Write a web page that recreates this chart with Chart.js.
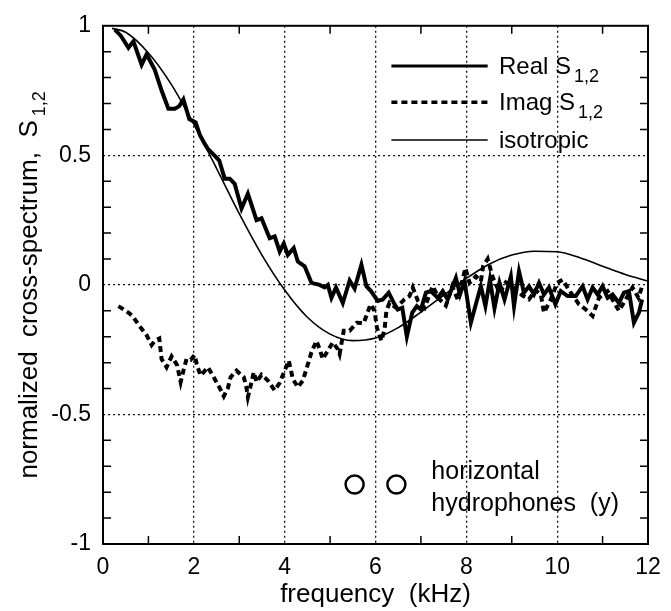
<!DOCTYPE html>
<html>
<head>
<meta charset="utf-8">
<script src="https://cdn.jsdelivr.net/npm/chart.js@4.4.1/dist/chart.umd.min.js"></script>
<style>
	html, body { margin: 0; padding: 0; background: #fff; }
	canvas { display: block; }
</style>
</head>
<body>
<canvas id="chart-cross-spectrum" width="671" height="611"></canvas>
<script>
const FONT = '"Liberation Sans", Arial, Helvetica, sans-serif';

// Real S1,2 (thick solid) - frequency in kHz
const realFreq = [0.26, 0.40, 0.56, 0.67, 0.85, 0.96, 1.14, 1.29, 1.44, 1.58, 1.68, 1.77, 1.90, 2.04, 2.13, 2.24, 2.31, 2.42, 2.56, 2.68, 2.79, 2.90, 3.05, 3.19, 3.38, 3.49, 3.67, 3.78, 3.89, 3.98, 4.07, 4.20, 4.29, 4.44, 4.59, 4.77, 4.88, 4.95, 5.03, 5.13, 5.28, 5.43, 5.54, 5.69, 5.80, 5.90, 6.05, 6.16, 6.29, 6.42, 6.49, 6.59, 6.69, 6.81, 6.91, 7.00, 7.11, 7.22, 7.37, 7.48, 7.59, 7.77, 7.86, 7.96, 8.10, 8.21, 8.32, 8.42, 8.52, 8.62, 8.73, 8.84, 8.98, 9.05, 9.16, 9.27, 9.38, 9.49, 9.60, 9.71, 9.82, 9.96, 10.08, 10.23, 10.41, 10.56, 10.67, 10.78, 10.89, 11.00, 11.11, 11.22, 11.36, 11.47, 11.58, 11.69, 11.80, 11.87];
const realVal = [0.985, 0.96, 0.915, 0.94, 0.85, 0.89, 0.83, 0.75, 0.68, 0.68, 0.69, 0.716, 0.64, 0.627, 0.58, 0.544, 0.525, 0.506, 0.48, 0.41, 0.41, 0.39, 0.295, 0.352, 0.25, 0.257, 0.18, 0.187, 0.129, 0.16, 0.116, 0.142, 0.09, 0.072, 0.008, 0.0, -0.01, 0.0, -0.05, -0.01, -0.07, 0.017, -0.014, 0.078, -0.005, -0.024, -0.062, -0.056, -0.03, -0.075, -0.095, -0.088, -0.20, -0.107, -0.082, -0.095, -0.03, -0.024, -0.05, -0.024, -0.056, 0.027, -0.037, 0.014, -0.146, -0.075, -0.005, -0.082, 0.02, -0.09, 0.008, -0.056, 0.033, -0.082, 0.052, -0.03, -0.005, -0.037, 0.008, -0.037, -0.01, -0.075, -0.024, -0.043, -0.043, -0.005, -0.056, -0.01, -0.037, -0.005, -0.05, -0.037, -0.07, -0.03, -0.024, -0.146, -0.107, -0.056];

// Imag S1,2 (thick dashed)
const imagFreq = [0.34, 0.56, 0.65, 0.80, 0.96, 1.07, 1.14, 1.24, 1.29, 1.40, 1.51, 1.63, 1.71, 1.77, 1.84, 1.93, 2.02, 2.07, 2.15, 2.31, 2.46, 2.57, 2.66, 2.75, 2.81, 2.94, 3.10, 3.16, 3.19, 3.27, 3.32, 3.38, 3.49, 3.63, 3.78, 3.89, 4.00, 4.09, 4.18, 4.29, 4.40, 4.48, 4.59, 4.70, 4.77, 4.84, 4.95, 5.06, 5.17, 5.21, 5.30, 5.43, 5.59, 5.74, 5.81, 5.89, 5.98, 6.03, 6.13, 6.20, 6.24, 6.31, 6.45, 6.64, 6.75, 6.82, 6.93, 7.08, 7.26, 7.41, 7.55, 7.69, 7.81, 7.98, 8.07, 8.21, 8.32, 8.37, 8.47, 8.58, 8.73, 8.87, 9.09, 9.23, 9.38, 9.52, 9.64, 9.71, 9.86, 10.00, 10.12, 10.30, 10.48, 10.63, 10.78, 10.92, 11.11, 11.23, 11.36, 11.51, 11.66, 11.79, 11.87];
const imagVal = [-0.082, -0.107, -0.12, -0.158, -0.194, -0.232, -0.216, -0.207, -0.286, -0.318, -0.276, -0.309, -0.375, -0.331, -0.286, -0.289, -0.271, -0.311, -0.35, -0.318, -0.363, -0.398, -0.43, -0.398, -0.356, -0.331, -0.356, -0.398, -0.433, -0.375, -0.337, -0.375, -0.347, -0.369, -0.407, -0.378, -0.331, -0.292, -0.363, -0.395, -0.369, -0.324, -0.26, -0.216, -0.248, -0.286, -0.254, -0.222, -0.248, -0.267, -0.177, -0.177, -0.146, -0.148, -0.114, -0.075, -0.10, -0.165, -0.216, -0.171, -0.10, -0.069, -0.088, -0.056, -0.043, -0.01, -0.06, -0.088, -0.005, -0.056, -0.08, -0.005, -0.056, 0.065, 0.008, 0.033, 0.014, 0.072, 0.10, 0.03, -0.03, 0.01, -0.018, -0.04, -0.056, -0.02, -0.037, -0.107, -0.056, 0.008, 0.02, -0.03, -0.075, -0.095, -0.12, -0.05, -0.024, -0.06, -0.10, -0.056, -0.01, -0.05, -0.005];

// isotropic model (thin solid)
const isoFreq = [0.2, 0.5, 1.0, 1.5, 2.0, 2.5, 3.0, 3.5, 4.0, 4.5, 5.0, 5.5, 6.0, 6.5, 7.0, 7.5, 8.0, 8.5, 9.0, 9.5, 10.0, 10.5, 11.0, 11.5, 12.0];
const isoVal = [0.99, 0.975, 0.895, 0.775, 0.62, 0.45, 0.275, 0.115, -0.02, -0.125, -0.19, -0.215, -0.205, -0.165, -0.105, -0.04, 0.025, 0.08, 0.115, 0.13, 0.128, 0.105, 0.072, 0.04, 0.015];

// axis ticks
const xMinorTicks = [1, 3, 5, 7, 9, 11];
const yMinorTicks = [-0.9, -0.8, -0.7, -0.6, -0.4, -0.3, -0.2, -0.1, 0.1, 0.2, 0.3, 0.4, 0.6, 0.7, 0.8, 0.9];

// labels
const legendLabels = ['Real S', 'Imag S', 'isotropic'];
const legendSubs = ['1,2', '1,2', ''];
const noteLines = ['horizontal', 'hydrophones  (y)'];
const yTitle = 'normalized  cross-spectrum,  S';
const yTitleSub = '1,2';
const xTitle = 'frequency  (kHz)';

const zip = (xs, ys) => xs.map((x, i) => ({ x: x, y: ys[i] }));

// frame, inside minor ticks, y title, legend and note
const extras = {
	id: 'extras',
	afterDraw(chart) {
		const ctx = chart.ctx;
		const a = chart.chartArea;
		const xs = chart.scales.x;
		const ys = chart.scales.y;
		ctx.save();
		ctx.strokeStyle = '#000';
		ctx.fillStyle = '#000';

		// ticks
		ctx.lineWidth = 1.5;
		xMinorTicks.forEach(v => {
			const px = xs.getPixelForValue(v);
			ctx.beginPath();
			ctx.moveTo(px, a.bottom); ctx.lineTo(px, a.bottom - 8);
			ctx.moveTo(px, a.top); ctx.lineTo(px, a.top + 8);
			ctx.stroke();
		});
		yMinorTicks.forEach(v => {
			const py = ys.getPixelForValue(v);
			ctx.beginPath();
			ctx.moveTo(a.left, py); ctx.lineTo(a.left + 8, py);
			ctx.moveTo(a.right, py); ctx.lineTo(a.right - 8, py);
			ctx.stroke();
		});

		// frame
		ctx.lineWidth = 2;
		ctx.strokeRect(a.left, a.top, a.right - a.left, a.bottom - a.top);

		// y title with subscript
		ctx.save();
		ctx.translate(30, (a.top + a.bottom) / 2);
		ctx.rotate(-Math.PI / 2);
		ctx.font = '26px ' + FONT;
		const w1 = ctx.measureText(yTitle).width;
		ctx.font = '18px ' + FONT;
		const w2 = ctx.measureText(yTitleSub).width;
		const x0 = -(w1 + 4 + w2) / 2;
		ctx.textBaseline = 'middle';
		ctx.textAlign = 'left';
		ctx.font = '26px ' + FONT;
		ctx.fillText(yTitle, x0, 0);
		ctx.font = '18px ' + FONT;
		ctx.fillText(yTitleSub, x0 + w1 + 4, 10);
		ctx.restore();

		// legend
		const legendY = [0.845, 0.705, 0.559];
		const legendW = [3, 3.5, 1.5];
		const styles = chart.data.datasets;
		const lx1 = xs.getPixelForValue(6.35);
		const lx2 = xs.getPixelForValue(8.47);
		const tx = xs.getPixelForValue(8.72);
		legendLabels.forEach((lab, i) => {
			const py = ys.getPixelForValue(legendY[i]);
			const ds = styles[i];
			ctx.save();
			ctx.lineWidth = legendW[i];
			ctx.setLineDash(ds.borderDash || []);
			ctx.beginPath();
			ctx.moveTo(lx1, py); ctx.lineTo(lx2, py);
			ctx.stroke();
			ctx.restore();
			ctx.textBaseline = 'middle';
			ctx.textAlign = 'left';
			ctx.font = '24px ' + FONT;
			ctx.fillText(lab, tx, py + 1);
			if (legendSubs[i]) {
				const w = ctx.measureText(lab).width;
				ctx.font = '18px ' + FONT;
				ctx.fillText(legendSubs[i], tx + w + 3, py + 11);
			}
		});

		// note: two circles and text
		ctx.lineWidth = 2.5;
		[5.54, 6.46].forEach(f => {
			ctx.beginPath();
			ctx.arc(xs.getPixelForValue(f), ys.getPixelForValue(-0.77), 9, 0, Math.PI * 2);
			ctx.stroke();
		});
		ctx.font = '25px ' + FONT;
		ctx.textBaseline = 'alphabetic';
		ctx.fillText(noteLines[0], xs.getPixelForValue(7.23), ys.getPixelForValue(-0.75));
		ctx.fillText(noteLines[1], xs.getPixelForValue(7.23), ys.getPixelForValue(-0.872));
		ctx.restore();
	},
};

!(function () {
	const ctx = document.getElementById('chart-cross-spectrum');

	new Chart(ctx, {
		type: 'line',
		data: {
			datasets: [
				{
					label: 'Real S1,2',
					data: zip(realFreq, realVal),
					borderColor: '#000',
					borderWidth: 4,
					pointRadius: 0,
					tension: 0,
				},
				{
					label: 'Imag S1,2',
					data: zip(imagFreq, imagVal),
					borderColor: '#000',
					borderWidth: 4,
					borderDash: [6, 4],
					pointRadius: 0,
					tension: 0,
				},
				{
					label: 'isotropic',
					data: zip(isoFreq, isoVal),
					borderColor: '#000',
					borderWidth: 1.6,
					pointRadius: 0,
					cubicInterpolationMode: 'monotone',
				},
			],
		},
		options: {
			responsive: false,
			animation: false,
			layout: {
				padding: { left: 0, right: 23, top: 21, bottom: 0 },
			},
			scales: {
				x: {
					type: 'linear',
					min: 0,
					max: 12,
					afterFit: s => { s.height = 67; },
					ticks: {
						stepSize: 2,
						padding: 10,
						color: '#000',
						font: { family: FONT, size: 23 },
					},
					grid: {
						color: c => (c.tick && c.tick.value > 0 && c.tick.value < 12) ? '#111' : 'rgba(0,0,0,0)',
						lineWidth: 1.3,
						drawTicks: false,
					},
					border: { display: false, dash: [2, 3] },
					title: {
						display: true,
						text: xTitle,
						color: '#000',
						font: { family: FONT, size: 26 },
						padding: { top: 0, bottom: 1 },
					},
				},
				y: {
					min: -1,
					max: 1,
					afterFit: s => { s.width = 103; },
					ticks: {
						stepSize: 0.5,
						padding: 12,
						color: '#000',
						font: { family: FONT, size: 23 },
						callback: v => String(v),
					},
					grid: {
						color: c => (c.tick && c.tick.value > -1 && c.tick.value < 1) ? '#111' : 'rgba(0,0,0,0)',
						lineWidth: 1.3,
						drawTicks: false,
					},
					border: { display: false, dash: [2, 3] },
				},
			},
			plugins: {
				legend: { display: false },
				tooltip: { enabled: false },
			},
		},
		plugins: [extras],
	});
})();
</script>
</body>
</html>
